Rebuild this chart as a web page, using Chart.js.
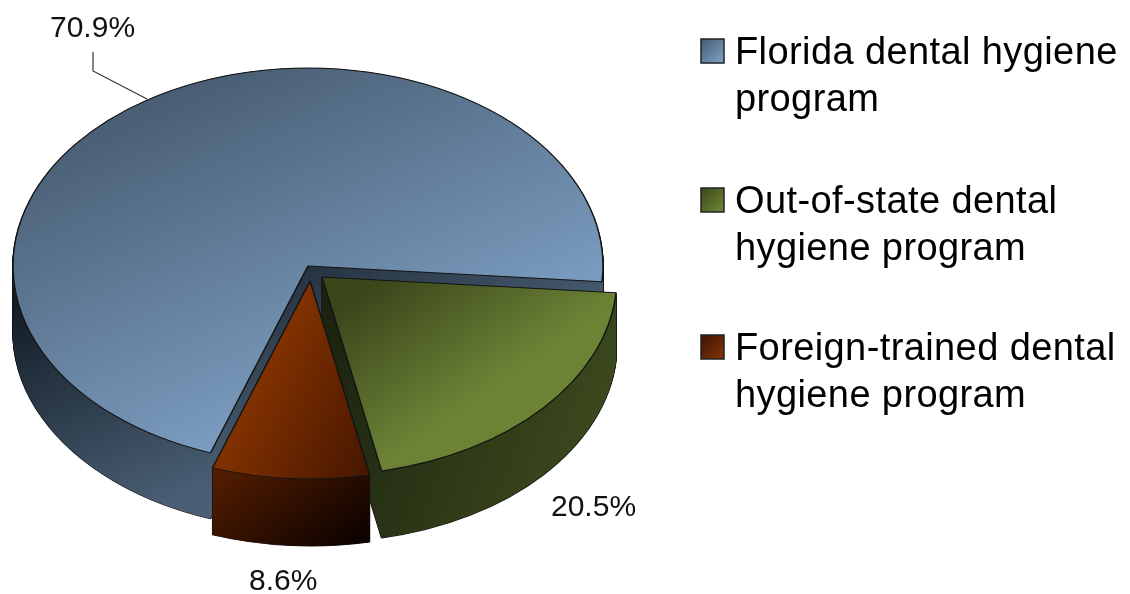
<!DOCTYPE html>
<html>
<head>
<meta charset="utf-8">
<style>html,body{margin:0;padding:0;background:#fff}canvas{display:block}</style>
<script src="https://cdn.jsdelivr.net/npm/chart.js@4/dist/chart.umd.min.js"></script>
</head>
<body>
<canvas id="c" width="1130" height="594"></canvas>
<script>
const categories = ["Florida dental hygiene program", "Out-of-state dental hygiene program", "Foreign-trained dental hygiene program"];
const legendLines = [["Florida dental hygiene", "program"], ["Out-of-state dental", "hygiene program"], ["Foreign-trained dental", "hygiene program"]];
const shares = [70.9, 20.5, 8.6];
const shareLabels = ["70.9%", "20.5%", "8.6%"];

// Projection of the pie onto the page (tilted, exploded)
const RX = 295, RY = 198, APEX = [308, 266];
const sliceShift = [[0, 0], [14, 11], [2, 15]];
const sliceDepth = [66, 67, 67];

// Device-space gradients: [x0, y0, x1, y1, colour0, colour1]
const topGrad = [
  [52, 119, 200, 458, "#465a6f", "#7b9dc0"],
  [255, 368, 342, 492, "#3b461b", "#6c8336"],
  [362, 187, 477, 247, "#803100", "#4a1800"]
];
const sideGrad = [
  [116, 266, 212, 486, "#141e28", "#4a5f75"],
  [345, 300, 610, 400, "#1c2410", "#3c491d"],
  [306, 408, 393, 524, "#521d00", "#0a0100"]
];
const legendSwatch = [
  ["#45596e", "#7fa3c8"], ["#3b461b", "#6f8838"], ["#3a1200", "#85340a"]
];
const labelPos = [[50, 37], [551, 516], [249, 590]];
const leader = [[93, 52], [93, 71], [147, 99]];
const legendBaselines = [64, 213, 360];

function slicePainter(ctx, arc, i, lift, grad, stroked) {
  const R = arc.outerRadius;
  const sx = RX / R, sy = RY / R;
  const tx = APEX[0] + sliceShift[i][0];
  const ty = APEX[1] + sliceShift[i][1] + lift;
  const [x0, y0, x1, y1, c0, c1] = grad;
  const dx = x1 - x0, dy = y1 - y0, L = Math.hypot(dx, dy), nx = dx / L, ny = dy / L;
  const k = L / (nx * nx * sx * sx + ny * ny * sy * sy);
  const ux = (x0 - tx) / sx + arc.x, uy = (y0 - ty) / sy + arc.y;
  const g = ctx.createLinearGradient(ux, uy, ux + k * nx * sx, uy + k * ny * sy);
  g.addColorStop(0, c0);
  g.addColorStop(1, c1);
  const base = arc.options;
  arc.options = Object.assign(Object.create(base), { backgroundColor: g, borderWidth: stroked ? base.borderWidth : 0 });
  ctx.save();
  ctx.translate(tx, ty);
  ctx.scale(sx, sy);
  ctx.translate(-arc.x, -arc.y);
  arc.draw(ctx);
  ctx.restore();
  arc.options = base;
}

const pie3d = {
  id: "pie3d",
  beforeDatasetDraw(chart, args) {
    const ctx = chart.ctx;
    const arcs = args.meta.data;
    arcs.forEach((arc, i) => {
      // outline of the extruded body, then its fill over the inner half of those lines
      for (let d = sliceDepth[i]; d >= 1; d--) slicePainter(ctx, arc, i, d, sideGrad[i], true);
      for (let d = sliceDepth[i]; d >= 0; d--) slicePainter(ctx, arc, i, d, sideGrad[i], false);
      slicePainter(ctx, arc, i, 0, topGrad[i], true);
    });
    return false;
  },
  afterDraw(chart) {
    const ctx = chart.ctx;
    ctx.save();
    // leader line
    ctx.strokeStyle = "#333";
    ctx.lineWidth = 1.2;
    ctx.beginPath();
    leader.forEach((p, i) => i ? ctx.lineTo(p[0], p[1]) : ctx.moveTo(p[0], p[1]));
    ctx.stroke();
    // value labels
    ctx.fillStyle = "#111";
    ctx.textBaseline = "alphabetic";
    ctx.textAlign = "left";
    ctx.font = "30px 'Liberation Sans'";
    shareLabels.forEach((t, i) => ctx.fillText(t, labelPos[i][0], labelPos[i][1]));
    // legend
    ctx.font = "38px 'Liberation Sans'";
    ctx.letterSpacing = "0.4px";
    legendLines.forEach((lines, i) => {
      const b = legendBaselines[i];
      const g = ctx.createLinearGradient(701, b - 25, 724, b - 2);
      g.addColorStop(0, legendSwatch[i][0]);
      g.addColorStop(1, legendSwatch[i][1]);
      ctx.fillStyle = g;
      ctx.fillRect(701, b - 25, 23, 24);
      ctx.strokeStyle = "#222";
      ctx.lineWidth = 1.5;
      ctx.strokeRect(701, b - 25, 23, 24);
      ctx.fillStyle = "#000";
      lines.forEach((t, j) => ctx.fillText(t, 735, b + j * 47));
    });
    ctx.restore();
  }
};

new Chart(document.getElementById("c"), {
  type: "pie",
  data: {
    labels: categories,
    datasets: [{
      data: shares,
      backgroundColor: ["#5f7d9b", "#55692b", "#6b2a00"],
      borderColor: "#141414",
      borderWidth: 1.5
    }]
  },
  options: {
    responsive: false,
    animation: false,
    rotation: 199.3,
    layout: { padding: { right: 514 } },
    plugins: { legend: { display: false }, tooltip: { enabled: false } }
  },
  plugins: [pie3d]
});
</script>
</body>
</html>
